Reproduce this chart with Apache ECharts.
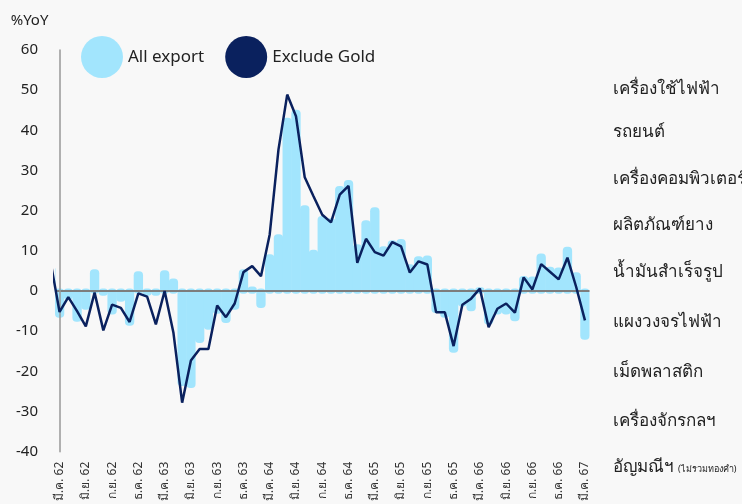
<!DOCTYPE html>
<html>
<head>
<meta charset="utf-8">
<script src="https://cdn.jsdelivr.net/npm/echarts@6/dist/echarts.min.js"></script>
<style>
  html, body { margin: 0; padding: 0; background: #f8f8f8; }
  #chart { width: 742px; height: 504px; }
</style>
</head>
<body>
<div id="chart"></div>
<script>
// month labels, ก.พ. 62 .. มี.ค. 67 (index -1 .. 60)
var thMonths = ['ม.ค.', 'ก.พ.', 'มี.ค.', 'เม.ย.', 'พ.ค.', 'มิ.ย.', 'ก.ค.', 'ส.ค.', 'ก.ย.', 'ต.ค.', 'พ.ย.', 'ธ.ค.'];
var months = [];
for (var y = 62; y <= 67; y++) {
    for (var m = 0; m < 12; m++) {
        if ((y === 62 && m < 1) || (y === 67 && m > 2)) continue;
        months.push(thMonths[m] + ' ' + y);
    }
}

var allExport = [5, -6, -1.5, -7, -4, 4.8, -0.5, -5.2, -2, -8, 4.3, -0.5, -0.5,
    4.5, 2.5, -23, -23.5, -12.3, -9, -5, -7.3, -4, 4.8, 0.5, -3.6,
    8.5, 13.5, 42.5, 44.5, 20.7, 9.6, 18, 17.5, 25.5, 27, 11, 17,
    20.2, 10.5, 12, 12.3, 6, 8, 8.2, -4.8, -6, -14.7, -3.2, -4.4,
    0.3, -7.7, -5.2, -5.2, -6.9, 3.1, 3, 8.7, 5.4, 5.2, 10.4, 4,
    -11.5];

var excludeGold = [7, -5.2, -1.5, -5, -8.8, -0.4, -9.8, -3.4, -4.2, -7.7, -0.6, -1.4, -8.3,
    0, -10.3, -27.8, -17.3, -14.4, -14.4, -3.6, -6.5, -3.1, 4.7, 6.2, 3.7,
    14.1, 35.2, 48.9, 43.5, 28.3, 23.6, 19, 17.1, 24, 26.2, 7, 13,
    9.7, 8.8, 12.2, 11.1, 4.6, 7.4, 6.6, -5.3, -5.3, -13.7, -3.4, -1.9,
    0.6, -9, -4.4, -3.1, -5.4, 3.4, 0.4, 6.7, 4.8, 2.9, 8.3, 1,
    -7.3];

var tickPos = [0, 3, 6, 9, 12, 15, 18, 21, 24, 27, 30, 33, 36, 39, 42, 45, 48, 51, 54, 57, 60];

var sideItems = ['เครื่องใช้ไฟฟ้า', 'รถยนต์', 'เครื่องคอมพิวเตอร์ฯ', 'ผลิตภัณฑ์ยาง', 'น้ำมันสำเร็จรูป',
    'แผงวงจรไฟฟ้า', 'เม็ดพลาสติก', 'เครื่องจักรกลฯ', 'อัญมณีฯ'];

var LIGHT = '#a2e5fd';
var NAVY = '#0a215e';
var ZERO = '#7d7d7d';
var NONE = 'rgba(0,0,0,0)';
var FONT = 'Noto Sans, sans-serif';

function pairs(arr) {
    return arr.map(function (v, k) { return [k - 1, v]; });
}

// puffy rounded bar: full month width, padded a bit past the value and zero
function renderBar(params, api) {
    var x = api.value(0), v = api.value(1);
    var top = api.coord([x, v]);
    var base = api.coord([x, 0]);
    var w = api.size([1, 0])[0] + 0.6;
    var pad = 2.6;
    var y0 = Math.min(top[1], base[1]) - pad;
    var h = Math.abs(top[1] - base[1]) + pad * 2;
    var cs = params.coordSys;
    var rect = { x: top[0] - w / 2, y: y0, width: w, height: h };
    var clipped = echarts.graphic.clipRectByRect(rect, {
        x: cs.x, y: cs.y, width: cs.width, height: cs.height
    });
    if (!clipped) return;
    return {
        type: 'rect',
        shape: { x: clipped.x, y: clipped.y, width: clipped.width, height: clipped.height, r: 4 },
        style: { fill: LIGHT }
    };
}

var chart = echarts.init(document.getElementById('chart'));

var sideY = [92, 135, 182, 228, 275, 325, 375, 424, 470];
var graphics = sideItems.map(function (t, k) {
    return {
        type: 'text', left: 613, top: sideY[k] - 11,
        style: { text: t, font: '17px ' + FONT, fill: '#222' }
    };
});
graphics.push({
    type: 'text', left: 678, top: sideY[8] - 5,
    style: { text: '(ไม่รวมทองคำ)', font: '9px ' + FONT, fill: '#222' }
});

var option = {
    backgroundColor: '#f8f8f8',
    textStyle: { fontFamily: FONT },
    animation: false,
    legend: {
        left: 76,
        top: 31,
        itemWidth: 42,
        itemHeight: 42,
        itemGap: 21,
        icon: 'circle',
        textStyle: { fontSize: 17, color: '#222' },
        data: [
            { name: 'All export', itemStyle: { color: LIGHT, borderWidth: 0 } },
            { name: 'Exclude Gold', itemStyle: { color: NAVY, borderWidth: 0 } }
        ]
    },
    grid: { left: 55, top: 50, width: 534.5, height: 402 },
    xAxis: {
        type: 'value',
        min: -0.52,
        max: 60.52,
        splitLine: { show: false },
        axisLine: { show: false },
        axisTick: { show: false },
        axisLabel: {
            customValues: tickPos,
            rotate: 90,
            fontSize: 12,
            color: '#333',
            margin: 10,
            formatter: function (v) { return months[Math.round(v) + 1]; }
        }
    },
    yAxis: {
        type: 'value',
        min: -40,
        max: 60,
        interval: 10,
        z: 4,
        name: '%YoY',
        nameGap: 22,
        nameTextStyle: { fontSize: 15, color: '#222', align: 'center', padding: [0, 60, 0, 0] },
        // only the 0 gridline is drawn
        splitLine: {
            show: true,
            lineStyle: {
                width: 2,
                color: [NONE, NONE, NONE, NONE, ZERO, NONE, NONE, NONE, NONE, NONE, NONE]
            }
        },
        axisLine: { show: true, lineStyle: { color: '#999', width: 1.5 } },
        axisTick: { show: false },
        axisLabel: { fontSize: 15, color: '#222', margin: 17 }
    },
    graphic: graphics,
    series: [
        {
            name: 'All export',
            type: 'custom',
            renderItem: renderBar,
            data: pairs(allExport),
            itemStyle: { color: LIGHT },
            encode: { x: 0, y: 1 },
            z: 1
        },
        {
            name: 'Exclude Gold',
            type: 'line',
            data: pairs(excludeGold),
            showSymbol: false,
            symbol: 'none',
            clip: true,
            lineStyle: { color: NAVY, width: 2.5 },
            itemStyle: { color: NAVY },
            z: 6
        }
    ]
};

chart.setOption(option);
window.onresize = chart.resize;
</script>
</body>
</html>
